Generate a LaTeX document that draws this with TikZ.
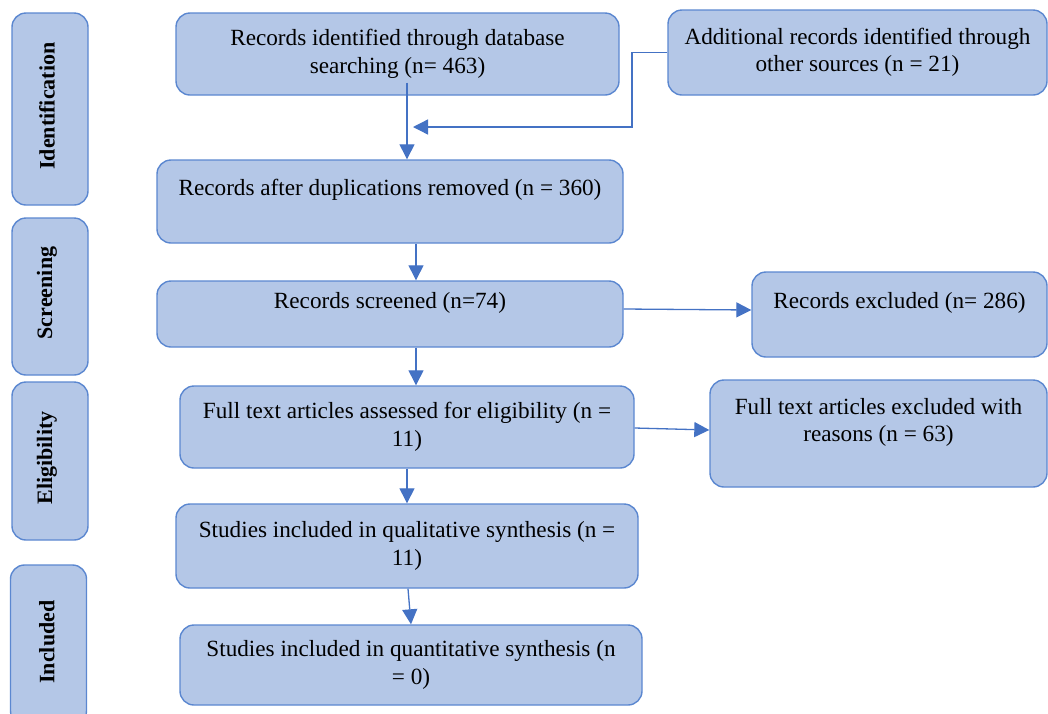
\documentclass[tikz,border=0pt]{standalone}
\usepackage{fontspec}
\setmainfont{Liberation Serif}
\usetikzlibrary{arrows.meta}
\definecolor{boxfill}{HTML}{B4C7E7}
\definecolor{boxline}{HTML}{5B87D0}
\definecolor{arrowline}{HTML}{4472C4}
\begin{document}
\begin{tikzpicture}[x=1pt,y=-1pt,
  box/.style={draw=boxline, fill=boxfill, line width=1.4pt, rounded corners=14pt,
    inner sep=0pt, align=center, font=\fontsize{23.2}{27.5}\selectfont},
  stage/.style={draw=boxline, fill=boxfill, line width=1.4pt, rounded corners=14pt,
    inner sep=0pt, minimum width=76, align=center},
  stagetext/.style={rotate=90, font=\fontsize{22}{26}\selectfont\bfseries},
  arr/.style={draw=arrowline, line width=1.3pt, -{Triangle[length=15pt,width=15pt]}}]
\useasboundingbox (0,0) rectangle (1048,713);

% stage column
\begin{scope}
\clip (0,0) rectangle (1048,713);
\node[stage, minimum height=192] (sid) at (50,109) {};
\node[stage, minimum height=157] (ssc) at (50,296.5) {};
\node[stage, minimum height=158] (sel) at (50,461) {};
\node[stage, minimum height=160] (sin) at (48.5,645) {};
\end{scope}
\node[stagetext] (tid) at (47,106) {Identification};
\node[stagetext] (tsc) at (47,293) {Screening};
\node[stagetext] (tel) at (47,458) {Eligibility};
\node[stagetext] (tin) at (47,642) {Included};

% flow boxes
\node[box, minimum width=443, minimum height=82] (a) at (397.5,54)
  {Records identified through database\\searching (n= 463)};
\node[box, minimum width=379, minimum height=85] (b) at (857.5,52.5)
  {Additional records identified through\\other sources (n = 21)};
\node[box, minimum width=466, minimum height=83] (c) at (390,201.5)
  {Records after duplications removed (n = 360)\\\mbox{}};
\node[box, minimum width=466, minimum height=66] (d) at (390,314)
  {Records screened (n=74)\\\mbox{}};
\node[box, minimum width=295, minimum height=85] (e) at (899.5,314.5)
  {Records excluded (n= 286)\\\mbox{}};
\node[box, minimum width=454, minimum height=82] (f) at (407,427)
  {Full text articles assessed for eligibility (n =\\11)};
\node[box, minimum width=337, minimum height=107] (g) at (878.5,433.5)
  {Full text articles excluded with\\reasons (n = 63)\\\mbox{}};
\node[box, minimum width=462, minimum height=84] (h) at (407,546)
  {Studies included in qualitative synthesis (n =\\11)};
\node[box, minimum width=462, minimum height=80] (i) at (411,665)
  {Studies included in quantitative synthesis (n\\= 0)};

% connectors
\coordinate (merge) at (413,127);
\draw[arr] ([yshift=13pt]a.south -| 407,0) -- (c.north -| 407,0);
\draw[arr] (b.west) -| (632,127) -- (merge);
\draw[arr] (c.south -| 416,0) -- (d.north -| 416,0);
\draw[arr] (d.east |- 0,309) -- (e.west |- 0,310);
\draw[arr] (d.south -| 416,0) -- (f.north -| 416,0);
\draw[arr] (f.east |- 0,428) -- (g.west |- 0,430);
\draw[arr] (f.south -| 407,0) -- (h.north -| 407,0);
\draw[arr] (h.south -| 408,0) -- (i.north -| 411,0);
\end{tikzpicture}
\end{document}
